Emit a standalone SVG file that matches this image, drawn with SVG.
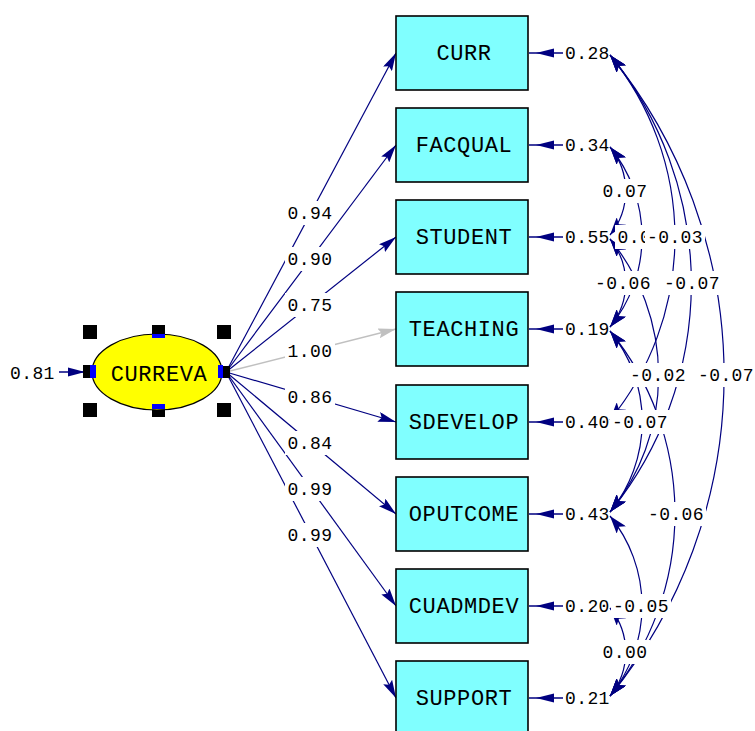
<svg xmlns="http://www.w3.org/2000/svg" width="755" height="731" viewBox="0 0 755 731">
  <style>
    .obs rect { fill: #80ffff; stroke: #000; stroke-width: 1.6; }
    .big { font-family: "Liberation Mono", "DejaVu Sans Mono", monospace; font-size: 22px; letter-spacing: 0.6px; text-anchor: middle; fill: #000; }
    .num { font-family: "Liberation Mono", "DejaVu Sans Mono", monospace; font-size: 18px; letter-spacing: 0.4px; fill: #000; }
    .mid { text-anchor: middle; }
    .bg { fill: #fff; }
    .ld { stroke: #000080; stroke-width: 1.2; fill: none; marker-end: url(#ah); }
    .ldg { stroke: #c0c0c0; stroke-width: 1.4; fill: none; marker-end: url(#ahg); }
    .cov { stroke: #000080; stroke-width: 1.2; fill: none; marker-start: url(#ahc); marker-end: url(#ahc); }
    .err { stroke: #000080; stroke-width: 1.4; }
    .hdl { fill: #000; }
    .pin { fill: #0000ff; }
  </style>
  <defs>
    <marker id="ah" viewBox="0 0 18 10" refX="18" refY="5" markerWidth="18" markerHeight="10" markerUnits="userSpaceOnUse" orient="auto">
      <path d="M0,0 L18,5 L0,10 L3,5 z" fill="#000080"/>
    </marker>
    <marker id="ahg" viewBox="0 0 18 10" refX="18" refY="5" markerWidth="18" markerHeight="10" markerUnits="userSpaceOnUse" orient="auto">
      <path d="M0,0 L18,5 L0,10 L3,5 z" fill="#c0c0c0"/>
    </marker>
    <marker id="ahc" viewBox="0 0 18 12" refX="18" refY="6" markerWidth="18" markerHeight="12" markerUnits="userSpaceOnUse" orient="auto-start-reverse">
      <path d="M0,0 L18,6 L0,12 L4,6 z" fill="#000080"/>
    </marker>
    <!-- small error-term arrowhead, tip at origin pointing left -->
    <path id="ea" d="M0,0 L18,-4.5 L18,4.5 z" fill="#000080"/>
  </defs>

  <rect width="755" height="731" fill="#fff"/>

  <!-- connectors: loadings, error arrows and error covariances -->
  <g id="connectors">
    <path class="ld" d="M226,372 L396,53"/>
    <path class="ld" d="M226,372 L396,145"/>
    <path class="ld" d="M226,372 L396,237"/>
    <path class="ldg" d="M226,372 L396,329"/>
    <path class="ld" d="M226,372 L396,422"/>
    <path class="ld" d="M226,372 L396,514"/>
    <path class="ld" d="M226,372 L396,606"/>
    <path class="ld" d="M226,372 L396,698"/>

    <!-- latent error -->
    <line class="err" x1="59" y1="372" x2="92" y2="372"/>
    <path d="M85,372 L68,367.5 L68,376.5 z" fill="#000080"/>

    <!-- indicator errors -->
    <g>
      <line class="err" x1="529" y1="53" x2="563" y2="53"/><use href="#ea" x="536" y="53"/>
      <line class="err" x1="529" y1="145" x2="563" y2="145"/><use href="#ea" x="536" y="145"/>
      <line class="err" x1="529" y1="237" x2="563" y2="237"/><use href="#ea" x="536" y="237"/>
      <line class="err" x1="529" y1="329" x2="563" y2="329"/><use href="#ea" x="536" y="329"/>
      <line class="err" x1="529" y1="422" x2="563" y2="422"/><use href="#ea" x="536" y="422"/>
      <line class="err" x1="529" y1="514" x2="563" y2="514"/><use href="#ea" x="536" y="514"/>
      <line class="err" x1="529" y1="606" x2="563" y2="606"/><use href="#ea" x="536" y="606"/>
      <line class="err" x1="529" y1="698" x2="563" y2="698"/><use href="#ea" x="536" y="698"/>
    </g>

    <!-- error variances -->
    <g class="num">
      <text x="565" y="59">0.28</text>
      <text x="565" y="151">0.34</text>
      <text x="565" y="243">0.55</text>
      <text x="565" y="335">0.19</text>
      <text x="565" y="428">0.40</text>
      <text x="565" y="520">0.43</text>
      <text x="565" y="612">0.20</text>
      <text x="565" y="704">0.21</text>
    </g>

    <!-- error covariances -->
    <path class="cov" d="M610,55 A288.8,288.8 0 0 1 610,420"/>
    <path class="cov" d="M610,55 A361.6,361.6 0 0 1 610,512"/>
    <path class="cov" d="M610,55 A507.2,507.2 0 0 1 610,696"/>
    <path class="cov" d="M610,147 A69.6,69.6 0 0 1 610,235"/>
    <path class="cov" d="M610,147 A142.4,142.4 0 0 1 610,327"/>
    <path class="cov" d="M610,239 A69.6,69.6 0 0 1 610,327"/>
    <path class="cov" d="M610,239 A216,216 0 0 1 610,512"/>
    <path class="cov" d="M610,331 A143.2,143.2 0 0 1 610,512"/>
    <path class="cov" d="M610,331 A288.8,288.8 0 0 1 610,696"/>
    <path class="cov" d="M610,516 A142.4,142.4 0 0 1 610,696"/>
    <path class="cov" d="M610,608 A69.6,69.6 0 0 1 610,696"/>
  </g>

  <!-- nodes -->
  <g id="CURREVA">
    <rect class="hdl" x="83" y="325" width="14" height="14"/>
    <rect class="hdl" x="152" y="325" width="13" height="13"/>
    <rect class="hdl" x="217" y="325" width="14" height="14"/>
    <rect class="hdl" x="83" y="365" width="14" height="13"/>
    <rect class="hdl" x="216" y="366" width="14" height="12"/>
    <rect class="hdl" x="83" y="403" width="14" height="14"/>
    <rect class="hdl" x="152" y="404" width="13" height="13"/>
    <rect class="hdl" x="217" y="403" width="14" height="14"/>
    <ellipse cx="157" cy="372" rx="65" ry="38" fill="#ffff00" stroke="#000" stroke-width="1.2"/>
    <rect class="pin" x="152" y="334" width="13" height="4"/>
    <rect class="pin" x="152" y="404" width="13" height="5"/>
    <rect class="pin" x="90" y="365" width="6" height="13"/>
    <rect class="pin" x="218" y="365" width="5" height="13"/>
    <text class="big" x="159" y="381">CURREVA</text>
  </g>

  <g id="CURR" class="obs"><rect x="396" y="16" width="132" height="74"/><text class="big" x="464" y="60">CURR</text></g>
  <g id="FACQUAL" class="obs"><rect x="396" y="108" width="132" height="74"/><text class="big" x="464" y="152">FACQUAL</text></g>
  <g id="STUDENT" class="obs"><rect x="396" y="200" width="132" height="74"/><text class="big" x="464" y="244">STUDENT</text></g>
  <g id="TEACHING" class="obs"><rect x="396" y="292" width="132" height="74"/><text class="big" x="464" y="336">TEACHING</text></g>
  <g id="SDEVELOP" class="obs"><rect x="396" y="385" width="132" height="74"/><text class="big" x="464" y="429">SDEVELOP</text></g>
  <g id="OPUTCOME" class="obs"><rect x="396" y="477" width="132" height="74"/><text class="big" x="464" y="521">OPUTCOME</text></g>
  <g id="CUADMDEV" class="obs"><rect x="396" y="569" width="132" height="74"/><text class="big" x="464" y="613">CUADMDEV</text></g>
  <g id="SUPPORT" class="obs"><rect x="396" y="661" width="132" height="74"/><text class="big" x="464" y="705">SUPPORT</text></g>

  <!-- coefficient labels -->
  <g id="labels" class="num">
    <text x="10" y="379">0.81</text>

    <rect class="bg" x="285" y="201" width="50" height="24"/><text class="mid" x="310" y="219">0.94</text>
    <rect class="bg" x="285" y="247" width="50" height="24"/><text class="mid" x="310" y="265">0.90</text>
    <rect class="bg" x="285" y="293" width="50" height="24"/><text class="mid" x="310" y="311">0.75</text>
    <rect class="bg" x="285" y="339" width="50" height="24"/><text class="mid" x="310" y="357">1.00</text>
    <rect class="bg" x="285" y="385" width="50" height="24"/><text class="mid" x="310" y="403">0.86</text>
    <rect class="bg" x="285" y="431" width="50" height="24"/><text class="mid" x="310" y="449">0.84</text>
    <rect class="bg" x="285" y="477" width="50" height="24"/><text class="mid" x="310" y="495">0.99</text>
    <rect class="bg" x="285" y="523" width="50" height="24"/><text class="mid" x="310" y="541">0.99</text>

    <rect class="bg" x="600" y="179" width="50" height="24"/><text class="mid" x="625" y="197">0.07</text>
    <rect class="bg" x="615" y="225" width="37" height="24"/><text x="617.5" y="243">0.0</text>
    <rect class="bg" x="645" y="225" width="60" height="24"/><text class="mid" x="675" y="243">-0.03</text>
    <rect class="bg" x="593" y="271" width="60" height="24"/><text class="mid" x="623" y="289">-0.06</text>
    <rect class="bg" x="662" y="271" width="60" height="24"/><text class="mid" x="692" y="289">-0.07</text>
    <rect class="bg" x="628" y="363" width="60" height="24"/><text class="mid" x="658" y="381">-0.02</text>
    <rect class="bg" x="696" y="363" width="60" height="24"/><text class="mid" x="726" y="381">-0.07</text>
    <rect class="bg" x="610" y="410" width="60" height="24"/><text class="mid" x="640" y="428">-0.07</text>
    <rect class="bg" x="646" y="502" width="60" height="24"/><text class="mid" x="676" y="520">-0.06</text>
    <rect class="bg" x="611" y="594" width="60" height="24"/><text class="mid" x="641" y="612">-0.05</text>
    <rect class="bg" x="600" y="640" width="50" height="24"/><text class="mid" x="625" y="658">0.00</text>
  </g>
</svg>
